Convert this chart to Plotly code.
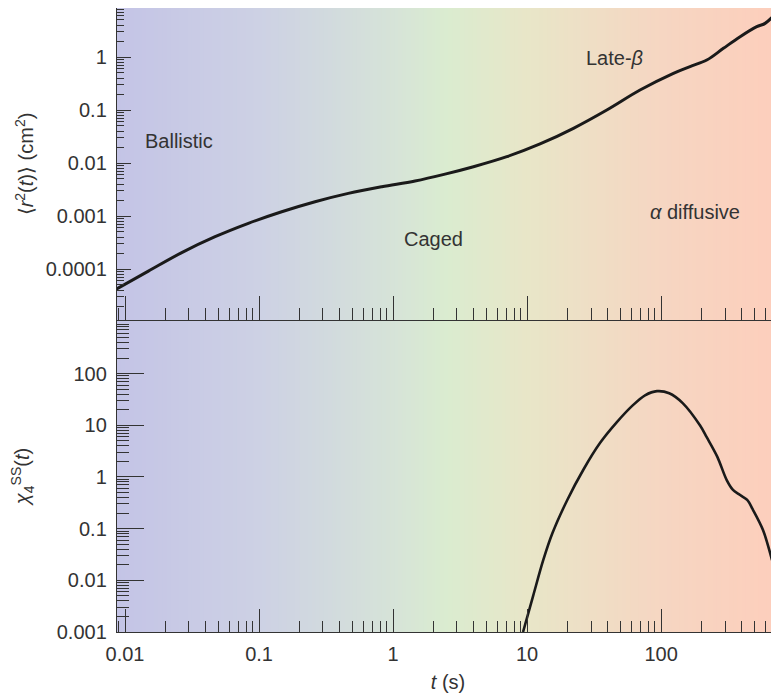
import math
import plotly.graph_objects as go

# ---- data ----
t_msd = [0.00841, 0.01493, 0.02649, 0.04699, 0.0832, 0.1476, 0.2618, 0.4634, 0.8241,
         1.459, 2.443, 3.981, 7.063, 12.50, 22.18, 39.36, 69.66, 123.6, 164.4, 219.3,
         291.7, 389.0, 517.6, 597.0, 760.3]
msd = [4.02e-5, 9.12e-5, 2.04e-4, 4.07e-4, 7.28e-4, 1.205e-3, 1.862e-3, 2.679e-3,
       3.573e-3, 4.571e-3, 6.166e-3, 8.511e-3, 0.01318, 0.02291, 0.04519, 0.1, 0.2382,
       0.4920, 0.66, 0.8770, 1.459, 2.415, 3.733, 4.315, 7.709]

t_chi = [9.33, 11.1, 13.2, 15.5, 20.0, 26.3, 35.1, 46.8, 61.7, 75.9, 93.3, 115, 145,
         195, 219, 263, 309, 344, 389, 439, 486, 577, 673]
chi4 = [0.001, 0.0050, 0.0245, 0.083, 0.363, 1.38, 4.57, 11.5, 24.5, 38.0, 45.7, 41.7,
        26.9, 10.0, 5.89, 2.45, 0.87, 0.562, 0.447, 0.359, 0.229, 0.0933, 0.0245]

x_tick_vals = [0.01, 0.1, 1, 10, 100]
x_tick_text = ["0.01", "0.1", "1", "10", "100"]
msd_tick_vals = [0.0001, 0.001, 0.01, 0.1, 1]
msd_tick_text = ["0.0001", "0.001", "0.01", "0.1", "1"]
chi_tick_vals = [0.001, 0.01, 0.1, 1, 10, 100]
chi_tick_text = ["0.001", "0.01", "0.1", "1", "10", "100"]

region_labels = ["Ballistic", "Caged", "Late-<i>β</i>", "<i>α</i> diffusive"]


def minor_ticks(k0, k1):
    return [m * 10.0 ** k for k in range(k0, k1) for m in range(2, 10)]


FONT = "Liberation Sans, Arial, sans-serif"
TXT = "#333333"
AX = "#333333"

fig = go.Figure()
fig.add_trace(go.Scatter(x=t_msd, y=msd, xaxis="x2", yaxis="y2", mode="lines",
                         line=dict(color="#1a1a1a", width=3, shape="spline", smoothing=1.0),
                         showlegend=False, hoverinfo="skip"))
fig.add_trace(go.Scatter(x=t_chi, y=chi4, xaxis="x", yaxis="y", mode="lines",
                         line=dict(color="#1a1a1a", width=2.6, shape="spline", smoothing=0.9),
                         showlegend=False, hoverinfo="skip"))

# background gradient (styling)
stops = [(0.0, (196, 196, 230)), (0.216, (205, 209, 228)), (0.417, (214, 227, 216)),
         (0.495, (218, 236, 208)), (0.619, (232, 230, 200)), (0.822, (246, 214, 194)),
         (1.0, (253, 206, 188))]


def col_at(f):
    for (a, ca), (b, cb) in zip(stops[:-1], stops[1:]):
        if a <= f <= b:
            u = (f - a) / (b - a)
            return "rgb(%d,%d,%d)" % tuple(round(ca[i] + u * (cb[i] - ca[i])) for i in range(3))
    return "rgb(%d,%d,%d)" % stops[-1][1]


N = 160
shapes = []
for i in range(N):
    x0 = i / N
    x1 = (i + 1) / N + 0.002
    shapes.append(dict(type="rect", xref="paper", yref="paper", x0=x0, x1=min(x1, 1.0),
                       y0=0, y1=1, fillcolor=col_at((i + 0.5) / N), line=dict(width=0),
                       layer="below"))

split = 0.5
xr = [-2.06, 2.88]

common_x = dict(type="log", range=xr, showgrid=False, zeroline=False, showline=True,
                linecolor=AX, linewidth=1.4, ticks="inside", tickcolor=AX, tickwidth=1.3,
                tickmode="array", tickvals=x_tick_vals, ticktext=x_tick_text,
                tickfont=dict(family=FONT, size=20, color=TXT), ticklabelstandoff=4,
                minor=dict(ticks="inside", tickmode="array", tickvals=minor_ticks(-3, 3),
                           tickcolor=AX, tickwidth=1.2))

xaxis = dict(common_x)
xaxis.update(domain=[0, 1], anchor="y", ticklen=23,
             minor=dict(common_x["minor"], ticklen=11),
             title=dict(text="<i>t</i> (s)", font=dict(family=FONT, size=20, color=TXT),
                       standoff=10))
xaxis2 = dict(common_x)
xaxis2.update(domain=[0, 1], anchor="y2", matches="x", showticklabels=False, ticklen=24,
              mirror=True, minor=dict(common_x["minor"], ticklen=12))

yaxis = dict(type="log", domain=[0, split], anchor="x", range=[-3, 3.037],
             showgrid=False, zeroline=False, showline=True, linecolor=AX, linewidth=1.4,
             ticks="inside", ticklen=27, tickcolor=AX, tickwidth=1.3,
             tickmode="array", tickvals=chi_tick_vals, ticktext=chi_tick_text,
             tickfont=dict(family=FONT, size=20, color=TXT), ticklabelstandoff=5,
             minor=dict(ticks="inside", ticklen=12, tickmode="array",
                        tickvals=minor_ticks(-3, 3), tickcolor=AX, tickwidth=1.2),
             title=dict(text="<i>χ</i><sub>4</sub><sup>SS</sup>(<i>t</i>)",
                        font=dict(family=FONT, size=20, color=TXT), standoff=22))
yaxis2 = dict(type="log", domain=[split, 1], anchor="x2", range=[-4.962, 0.925],
              showgrid=False, zeroline=False, showline=True, linecolor=AX, linewidth=1.4,
              ticks="inside", ticklen=14, tickcolor=AX, tickwidth=1.3,
              tickmode="array", tickvals=msd_tick_vals, ticktext=msd_tick_text,
              tickfont=dict(family=FONT, size=20, color=TXT), ticklabelstandoff=5,
              minor=dict(ticks="inside", ticklen=7, tickmode="array",
                         tickvals=minor_ticks(-5, 1), tickcolor=AX, tickwidth=1.2),
              title=dict(text="⟨<i>r</i><sup>2</sup>(<i>t</i>)⟩ (cm<sup>2</sup>)",
                         font=dict(family=FONT, size=20, color=TXT), standoff=6))

label_pos = [(0.0253, 0.026), (2.02, 3.68e-4), (44.6, 0.955), (179.5, 1.2e-3)]
annotations = []
for txt, (tx, ty) in zip(region_labels, label_pos):
    annotations.append(dict(text=txt, x=math.log10(tx), y=math.log10(ty), xref="x2",
                            yref="y2", showarrow=False,
                            font=dict(family=FONT, size=20, color=TXT)))

fig.update_layout(width=771, height=692, margin=dict(l=109, r=0, t=0, b=68),
                  paper_bgcolor="white", plot_bgcolor="rgba(0,0,0,0)",
                  xaxis=xaxis, xaxis2=xaxis2, yaxis=yaxis, yaxis2=yaxis2,
                  shapes=shapes, annotations=annotations, showlegend=False)

fig.write_html("out.html")
